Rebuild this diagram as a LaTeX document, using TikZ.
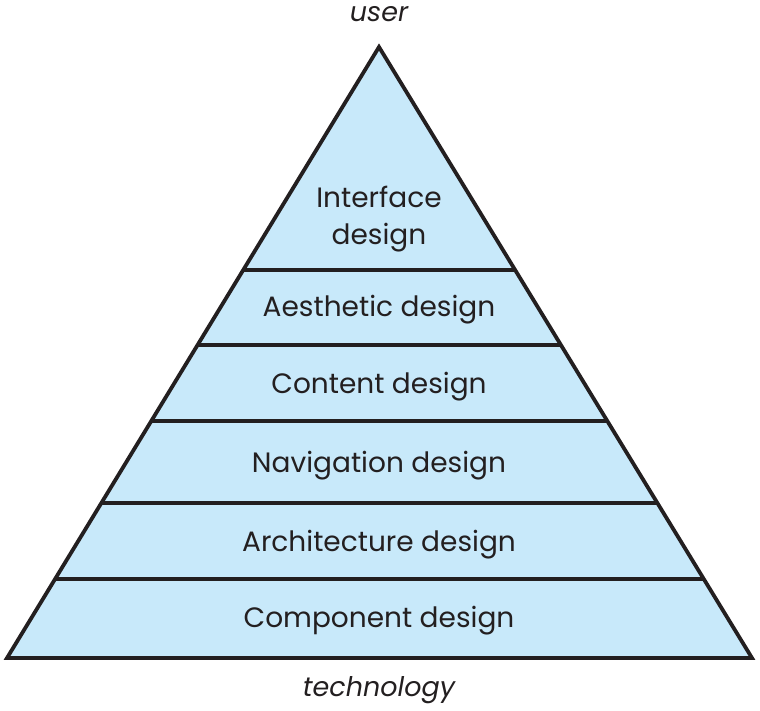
\documentclass[tikz,border=0pt]{standalone}
\usepackage{fontspec}
\setmainfont{Poppins}
\usetikzlibrary{calc}
\definecolor{layerBlue}{RGB}{200,233,250}
\definecolor{edgeBlack}{RGB}{35,31,32}

\begin{document}
\begin{tikzpicture}[x=1pt, y=-1pt, line join=miter,
    layer/.style={text=edgeBlack, font=\fontsize{28}{37}\selectfont, align=center},
    pole/.style={text=edgeBlack, font=\fontsize{27}{30}\selectfont\itshape}]
  \useasboundingbox (0,0) rectangle (760,711);
  \coordinate (apex) at (379,47);
  \coordinate (bl) at (7,658);
  \coordinate (br) at (752,658);
  \fill[layerBlue] (apex) -- (bl) -- (br) -- cycle;
  % layer dividers
  \foreach \y in {270,345,421,503,579} {
    \draw[edgeBlack, line width=3.8pt] ($(apex)!{(\y-47)/611}!(bl)$) -- ($(apex)!{(\y-47)/611}!(br)$);
  }
  \draw[edgeBlack, line width=3.8pt] (apex) -- (bl) -- (br) -- cycle;
  % labels
  \node[layer] (interface) at (379,219) {Interface\\design};
  \node[layer] (aesthetic) at (379,310) {Aesthetic design};
  \node[layer] (content) at (379,387) {Content design};
  \node[layer] (navigation) at (379,466) {Navigation design};
  \node[layer] (architecture) at (379,545) {Architecture design};
  \node[layer] (component) at (379,621) {Component design};
  \node[pole] (user) at (379,14) {user};
  \node[pole] (technology) at (379,690) {technology};
\end{tikzpicture}
\end{document}
